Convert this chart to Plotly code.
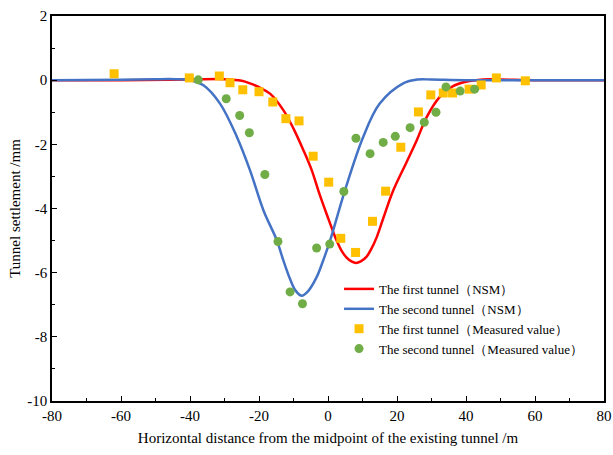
import plotly.graph_objects as go

# NSM curves
nsm1_x = [-80, -60, -40, -30, -25, -22.6, -20, -16.8, -12.9, -10, -7.1, -4.7, -2.8, -0.4, 2.5, 4, 5.4, 6.8, 8.1,
          9.5, 11.2, 12.6, 14.1, 16.2, 18.9, 22.8, 25.7, 28.6, 32.4, 36, 40, 45, 50, 60, 80]
nsm1_y = [0, 0, 0.02, 0.03, -0.02, -0.10, -0.22, -0.42, -0.94, -1.51, -2.19, -2.81, -3.44, -4.17, -5.0, -5.33, -5.53,
          -5.65, -5.70, -5.65, -5.50, -5.25, -4.9, -4.25, -3.44, -2.55, -1.88, -1.15, -0.52, -0.2, -0.05, 0.02, 0.02,
          0, 0]

nsm2_x = [-80, -60, -50, -44, -40, -36.1, -31.3, -26.4, -22.6, -18.7, -14.8, -13, -11.0, -9.4, -7.6, -5.8, -3.3,
          -1.5, 0.6, 4.9, 10.2, 15, 21.8, 26, 30, 40, 80]
nsm2_y = [0, 0.01, 0.03, 0.03, 0.0, -0.16, -0.73, -1.77, -2.81, -4.06, -5.0, -5.6, -6.2, -6.56, -6.72, -6.58, -6.14,
          -5.65, -5.0, -3.44, -1.77, -0.73, -0.10, 0.02, 0.02, 0, 0]

# Measured values
meas1_x = [-62, -40.2, -31.5, -28.4, -24.7, -20, -16, -12.2, -8.4, -4.3, 0.2, 3.7, 8, 12.9, 16.7, 21.1,
           26.2, 29.8, 33.4, 36.1, 40.9, 44.4, 48.8, 57.2]
meas1_y = [0.2, 0.07, 0.13, -0.08, -0.3, -0.36, -0.68, -1.2, -1.27, -2.37, -3.18, -4.93, -5.37, -4.4, -3.46, -2.09,
           -0.99, -0.46, -0.4, -0.4, -0.28, -0.15, 0.07, -0.02]

meas2_x = [-37.6, -29.5, -25.6, -22.8, -18.3, -14.5, -11, -7.4, -3.3, 0.5, 4.6, 8.1, 12.2, 16, 19.5,
           23.8, 27.9, 31.3, 34.2, 38.3, 42.5]
meas2_y = [0.01, -0.58, -1.1, -1.64, -2.94, -5.03, -6.6, -6.97, -5.23, -5.11, -3.47, -1.81, -2.29, -1.94, -1.75,
           -1.48, -1.31, -1.0, -0.21, -0.34, -0.28]

names = ["The first tunnel（NSM）", "The second tunnel（NSM）",
         "The first tunnel（Measured value）", "The second tunnel（Measured value）"]

x_ticks = [-80, -60, -40, -20, 0, 20, 40, 60, 80]
y_ticks = [2, 0, -2, -4, -6, -8, -10]

FONT = "Liberation Serif, Times New Roman, serif"

fig = go.Figure()
fig.add_trace(go.Scatter(x=nsm1_x, y=nsm1_y, mode="lines", name=names[0],
                         line=dict(color="#FF0000", width=2.5, shape="spline", smoothing=1.0)))
fig.add_trace(go.Scatter(x=nsm2_x, y=nsm2_y, mode="lines", name=names[1],
                         line=dict(color="#4472C4", width=2.5, shape="spline", smoothing=1.0)))
fig.add_trace(go.Scatter(x=meas1_x, y=meas1_y, mode="markers", name=names[2],
                         marker=dict(symbol="square", color="#FFC000", size=9)))
fig.add_trace(go.Scatter(x=meas2_x, y=meas2_y, mode="markers", name=names[3],
                         marker=dict(symbol="circle", color="#70AD47", size=9)))

axis_common = dict(showgrid=False, zeroline=False, showline=True, linecolor="black", linewidth=1.5,
                   mirror=True, ticks="inside", ticklen=5, tickwidth=1.3, tickcolor="black",
                   automargin=False, ticklabeloverflow="allow",
                   tickfont=dict(family=FONT, size=15, color="black"))

fig.update_xaxes(range=[-80, 80], tickvals=x_ticks, ticktext=[str(v) for v in x_ticks],
                 minor=dict(ticks="inside", ticklen=3, tickcolor="black", dtick=10, tick0=-80),
                 title=dict(text="Horizontal distance from the midpoint of the existing tunnel /m",
                            font=dict(family=FONT, size=15, color="black"), standoff=10),
                 **axis_common)
fig.update_yaxes(range=[-10, 2], tickvals=y_ticks, ticktext=[str(v) for v in y_ticks],
                 minor=dict(ticks="inside", ticklen=3, tickcolor="black", dtick=1, tick0=0),
                 title=dict(text="Tunnel settlement /mm",
                            font=dict(family=FONT, size=15, color="black"), standoff=3),
                 **axis_common)

fig.update_layout(
    width=613, height=455,
    margin=dict(l=52, r=9, t=16, b=54),
    paper_bgcolor="white", plot_bgcolor="white",
    font=dict(family=FONT, size=13, color="black"),
    legend=dict(x=0.52, y=0.33, xanchor="left", yanchor="top", bgcolor="rgba(0,0,0,0)",
                font=dict(family=FONT, size=13, color="black"), tracegroupgap=0, itemwidth=30),
)

# remove the browser's default body margin so the 613x455 figure fills the window exactly
fig.write_html("out.html", config={"displayModeBar": False},
               post_script="document.body.style.margin='0px';document.body.style.overflow='hidden';")
